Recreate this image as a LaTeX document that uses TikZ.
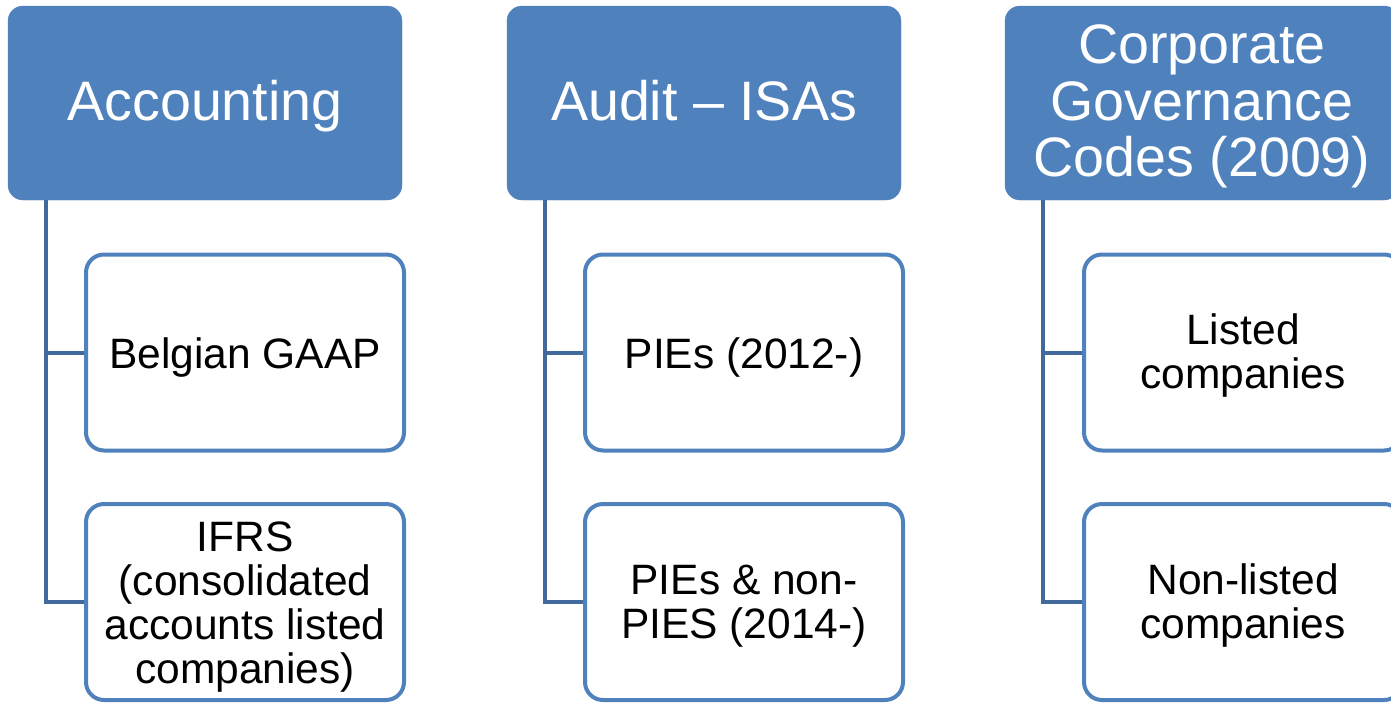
\documentclass[tikz,border=0pt]{standalone}
\usepackage{fontspec}
\setmainfont{Liberation Sans}
\definecolor{headblue}{HTML}{4F81BD}
\definecolor{linkblue}{HTML}{41699C}
% onzichtbare steun: hoogte (en optioneel diepte) van de eerste regel
\newcommand{\lift}[2][0]{\rule[-#1pt]{0pt}{\dimexpr#2pt+#1pt\relax}}
\tikzset{
  head/.style={fill=headblue, draw=headblue, rounded corners=15pt, text=white,
    minimum width=394pt, minimum height=194pt, align=center,
    font=\fontsize{55.6}{56.5}\selectfont},
  leaf/.style={fill=white, draw=headblue, line width=4pt, rounded corners=18pt,
    minimum width=318pt, minimum height=196pt, align=center,
    font=\fontsize{42.5}{44}\selectfont},
  link/.style={draw=linkblue, line width=4pt}
}
\begin{document}
\begin{tikzpicture}[x=1pt, y=-1pt]
    \useasboundingbox (0,0) rectangle (1391,704);

    % Kopjes
    \node[head] (acc) at (205, 103) {\lift{46}Accounting};
    \node[head] (aud) at (704, 103) {\lift[11.7]{46}Audit -- ISAs};
    \node[head] (cgc) at (1202, 103) {\lift{46}Corporate\\Governance\\Codes (2009)};

    % Onderdelen
    \node[leaf] (gaap) at (245, 352.5) {\lift{40}Belgian GAAP};
    \node[leaf] (ifrs) at (245, 602) {\lift{39}IFRS\\(consolidated\\accounts listed\\companies)};
    \node[leaf] (pie) at (744, 352.5) {\lift{40}PIEs (2012-)};
    \node[leaf] (nonpie) at (744, 602) {\lift{37}PIEs \& non-\\PIES (2014-)};
    \node[leaf] (listed) at (1243, 352.5) {\lift{37}Listed\\companies};
    \node[leaf] (nonlisted) at (1243, 602) {\lift{37}Non-listed\\companies};

    % Verbindingen
    \draw[link] ([xshift=38pt]acc.south west) |- (ifrs.west);
    \draw[link] ([xshift=38pt]acc.south west) |- (gaap.west);
    \draw[link] ([xshift=38pt]aud.south west) |- (nonpie.west);
    \draw[link] ([xshift=38pt]aud.south west) |- (pie.west);
    \draw[link] ([xshift=38pt]cgc.south west) |- (nonlisted.west);
    \draw[link] ([xshift=38pt]cgc.south west) |- (listed.west);
\end{tikzpicture}
\end{document}
